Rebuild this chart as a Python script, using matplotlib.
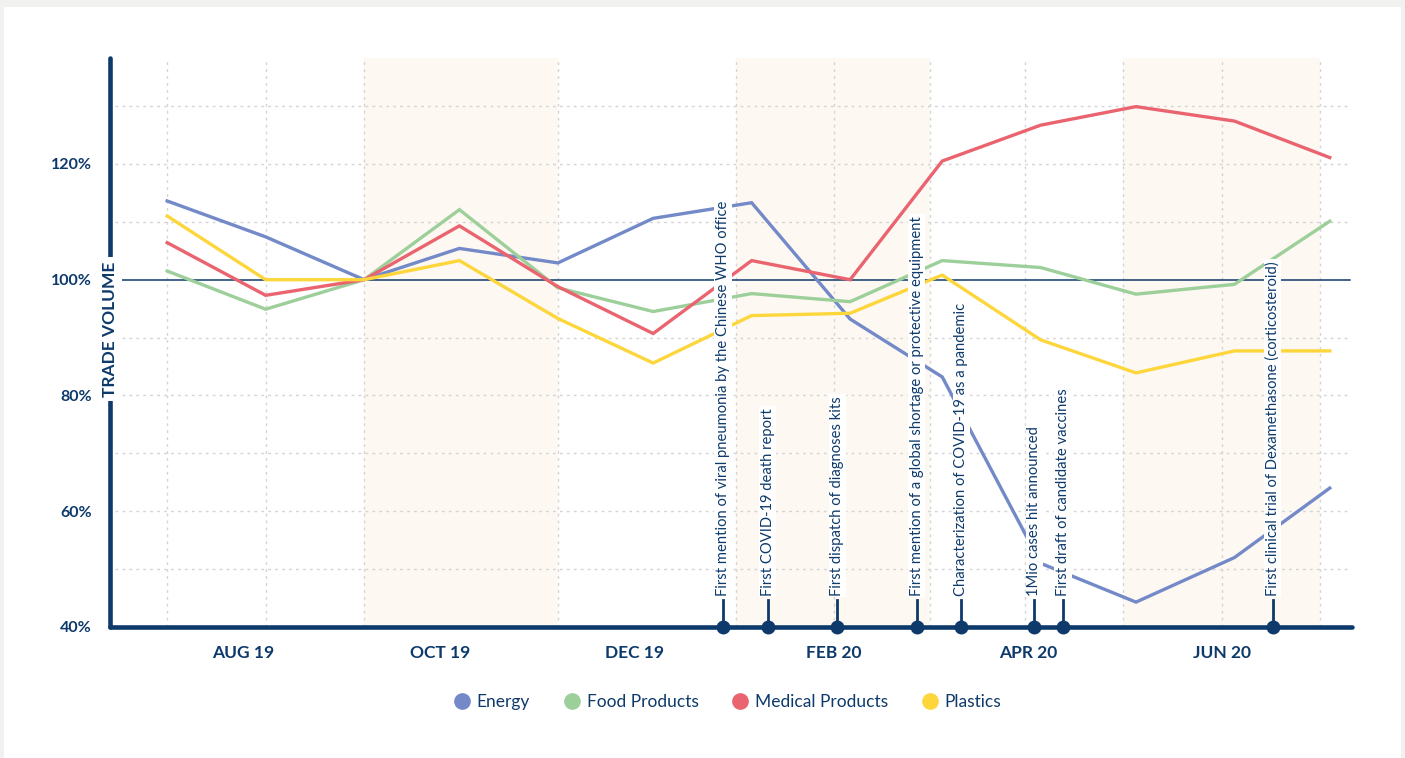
import pandas as pd
import matplotlib.pyplot as plt
from matplotlib.patches import Rectangle
from matplotlib.lines import Line2D

# monthly trade volume index (100% = Sep 2019)
months = pd.date_range('2019-07-01', '2020-07-01', freq='MS')
energy = [113.6, 107.4, 100.0, 105.4, 102.9, 110.6, 113.3, 93.2, 83.2, 51.0, 44.3, 52.0, 64.0]
food = [101.5, 94.9, 100.0, 112.1, 98.6, 94.5, 97.6, 96.2, 103.3, 102.1, 97.5, 99.2, 110.1]
medical = [106.4, 97.3, 100.0, 109.3, 98.8, 90.7, 103.3, 100.0, 120.5, 126.7, 129.9, 127.4, 121.1]
plastics = [111.0, 100.0, 100.0, 103.3, 93.3, 85.6, 93.8, 94.2, 100.8, 89.6, 83.9, 87.7, 87.7]

series_names = ['Energy', 'Food Products', 'Medical Products', 'Plastics']
series_colors = ['#7389c8', '#9dcf9b', '#ea6470', '#fdd63c']

events = ['First mention of viral pneumonia by the Chinese WHO office',
          'First COVID-19 death report',
          'First dispatch of diagnoses kits',
          'First mention of a global shortage or protective equipment',
          'Characterization of COVID-19 as a pandemic',
          '1Mio cases hit announced',
          'First draft of candidate vaccines',
          'First clinical trial of Dexamethasone (corticosteroid)']
event_dates = pd.to_datetime(['2019-12-23', '2020-01-06', '2020-01-28', '2020-02-22',
                              '2020-03-07', '2020-03-30', '2020-04-08', '2020-06-13'])

tick_dates = pd.to_datetime(['2019-07-25', '2019-09-25', '2019-11-25',
                             '2020-01-27', '2020-03-28', '2020-05-28'])
tick_labels = ['AUG 19', 'OCT 19', 'DEC 19', 'FEB 20', 'APR 20', 'JUN 20']

grid_dates = pd.to_datetime(['2019-07-01', '2019-08-01', '2019-09-01', '2019-11-01',
                             '2019-12-27', '2020-01-27', '2020-02-26', '2020-03-27',
                             '2020-04-27', '2020-05-28', '2020-06-28'])
band_starts = pd.to_datetime(['2019-09-01', '2019-12-27', '2020-04-27'])
band_ends = pd.to_datetime(['2019-11-01', '2020-02-26', '2020-06-28'])

navy = '#0d3a6b'
plt.rcParams['font.family'] = ['Lato', 'DejaVu Sans']

fig = plt.figure(figsize=(14.05, 7.58), dpi=100, facecolor='#f1f1ef')
fig.patches.append(Rectangle((4 / 1405, 0), 1397 / 1405, 751 / 758, transform=fig.transFigure,
                             facecolor='white', edgecolor='none', zorder=-5))
ax = fig.add_axes([110 / 1405, 1 - 627 / 758, 1242 / 1405, 569 / 758])
ax.set_facecolor('none')

ax.set_xlim(pd.Timestamp('2019-06-13'), pd.Timestamp('2020-07-08'))
ax.set_ylim(40, 138.3)

# shaded bands and dotted grid
for s, e in zip(band_starts, band_ends):
    ax.axvspan(s, e, color='#fdf8f1', zorder=0, lw=0)
for g in grid_dates:
    ax.axvline(g, color='#d4d4d4', lw=1, ls=(0, (2, 3)), zorder=1)
for yv in range(50, 140, 10):
    if yv != 100:
        ax.axhline(yv, xmin=0.004, xmax=0.998, color='#d4d4d4', lw=1, ls=(0, (2, 3)), zorder=1)
ax.axhline(100, xmin=0.01, xmax=0.998, color=navy, lw=1.1, zorder=2)

for vals, name, c in zip([energy, food, medical, plastics], series_names, series_colors):
    ax.plot(months, vals, color=c, lw=2.4, label=name, zorder=3, solid_joinstyle='miter')

# event markers on the time axis
for d, label in zip(event_dates, events):
    ax.plot([d, d], [40, 44.6], color=navy, lw=2, zorder=5, clip_on=False)
    ax.plot(d, 40, 'o', color=navy, ms=9, zorder=6, clip_on=False)
    ax.text(d, 45.4, label, rotation=90, ha='center', va='bottom', fontsize=10.6,
            color=navy, zorder=5,
            bbox=dict(facecolor='white', edgecolor='none', pad=1.2))

for side in ['top', 'right']:
    ax.spines[side].set_visible(False)
for side in ['left', 'bottom']:
    ax.spines[side].set_color(navy)
    ax.spines[side].set_linewidth(3.3)
    ax.spines[side].set_capstyle('round')
    ax.spines[side].set_zorder(4)

ax.set_yticks([40, 60, 80, 100, 120])
ax.set_yticklabels(['40%', '60%', '80%', '100%', '120%'])
ax.set_xticks(tick_dates)
ax.set_xticklabels(tick_labels)
ax.tick_params(axis='y', length=0, pad=13, labelsize=11.5, labelcolor=navy)
ax.tick_params(axis='x', length=0, pad=13, labelsize=12.5, labelcolor=navy)
for t in ax.get_yticklabels() + ax.get_xticklabels():
    t.set_fontweight('bold')

ax.text(0, 91.5, 'TRADE VOLUME', transform=ax.get_yaxis_transform(), rotation=90,
        ha='center', va='center', fontsize=12.5, fontweight='bold', color=navy, zorder=7,
        bbox=dict(facecolor='white', edgecolor='none', pad=3))

handles = [Line2D([], [], marker='o', ls='none', color=c, ms=11) for c in series_colors]
fig.legend(handles, series_names, loc='center', bbox_to_anchor=(0.517, 1 - 702 / 758),
           ncol=4, frameon=False, fontsize=12.5, labelcolor=navy, handletextpad=0.25,
           handlelength=1.2, columnspacing=1.8)

fig.savefig('out.png', dpi=100, facecolor=fig.get_facecolor())
